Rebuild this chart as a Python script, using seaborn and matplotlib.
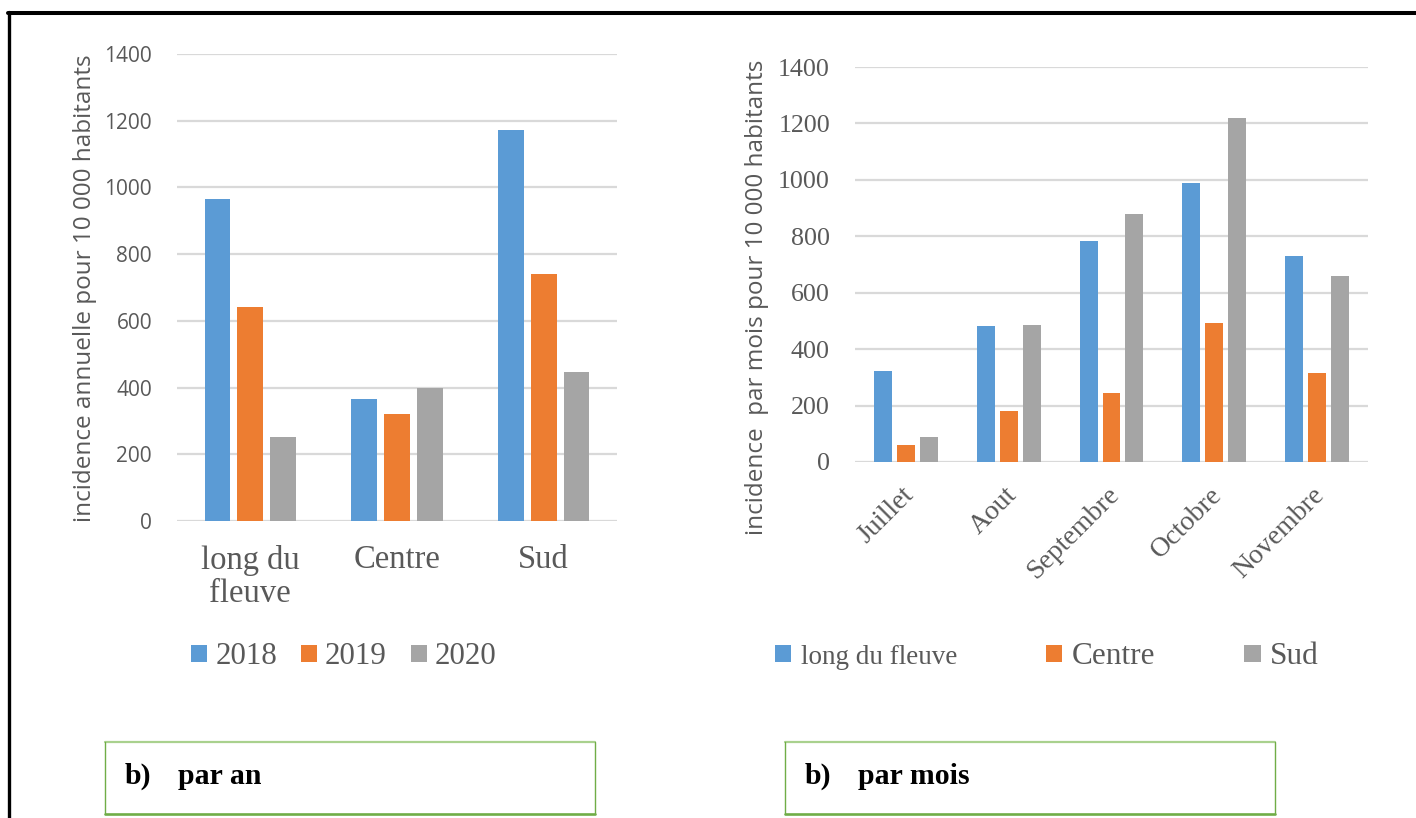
import numpy as np
import pandas as pd
import matplotlib
matplotlib.use("Agg")
import matplotlib.pyplot as plt
from matplotlib.patches import Patch
from matplotlib.lines import Line2D
import seaborn as sns

# ---- data -------------------------------------------------------------
zones = ["long du fleuve", "Centre", "Sud"]
annees = ["2018", "2019", "2020"]
inc_2018 = [966, 367, 1172]
inc_2019 = [643, 321, 741]
inc_2020 = [251, 400, 447]

mois = ["Juillet", "Aout", "Septembre", "Octobre", "Novembre"]
mois_fleuve = [324, 483, 782, 989, 730]
mois_centre = [61, 182, 245, 494, 317]
mois_sud = [90, 485, 879, 1220, 658]

couleurs = ["#5B9BD5", "#ED7D31", "#A5A5A5"]
y_ticks = [0, 200, 400, 600, 800, 1000, 1200, 1400]

df_an = pd.DataFrame({
    "zone": zones * 3,
    "annee": [a for a in annees for _ in zones],
    "incidence": inc_2018 + inc_2019 + inc_2020,
})
df_mois = pd.DataFrame({
    "mois": mois * 3,
    "zone": [z for z in zones for _ in mois],
    "incidence": mois_fleuve + mois_centre + mois_sud,
})

# ---- style ------------------------------------------------------------
sns.set_theme(style="white")
SANS = ["Open Sans", "DejaVu Sans"]
SERIF = ["Liberation Serif", "DejaVu Serif"]
plt.rcParams["font.family"] = SANS
TXT = "#595959"
GRID = "#D9D9D9"

W, H = 1416, 818
fig = plt.figure(figsize=(W / 100, H / 100), dpi=100)


def rect(x0, y0, x1, y1):
    return [x0 / W, 1 - y1 / H, (x1 - x0) / W, (y1 - y0) / H]


def style_axes(ax):
    ax.set_ylim(0, 1400)
    ax.set_yticks(y_ticks)
    ax.grid(axis="y", color=GRID, linewidth=1.6)
    ax.grid(axis="x", visible=False)
    ax.set_axisbelow(True)
    for s in ax.spines.values():
        s.set_visible(False)
    ax.tick_params(length=0, colors=TXT)
    ax.set_xlabel("")
    ax.set_ylabel("")


# ---- annual incidence by zone -----------------------------------------
ax1 = fig.add_axes(rect(177, 54, 617, 521))
sns.barplot(data=df_an, x="zone", y="incidence", hue="annee", order=zones,
            hue_order=annees, palette=couleurs, width=0.67, gap=0.215,
            linewidth=0, saturation=1, ax=ax1, legend=False)
style_axes(ax1)
ax1.tick_params(axis="y", pad=18)
for t in ax1.get_yticklabels():
    t.set_fontfamily(SANS)
    t.set_fontsize(15)
ax1.set_xticks(range(len(zones)))
ax1.set_xticklabels([z.replace("long du ", "long du\n") for z in zones],
                    fontfamily=SERIF, fontsize=23.5, color=TXT,
                    linespacing=1.13)
ax1.tick_params(axis="x", pad=17)
fig.text(85 / W, 1 - 288 / H, "incidence annuelle pour 10 000 habitants",
         rotation=90, ha="center", va="center", fontsize=17.5,
         family=SANS, color=TXT)

h1 = [Patch(facecolor=c, edgecolor="none") for c in couleurs]
leg1 = fig.legend(h1, annees, loc="center left",
                  bbox_to_anchor=(191 / W, 1 - 657 / H), ncol=3,
                  frameon=False, prop={"family": SERIF, "size": 22.3},
                  handlelength=0.52, handleheight=0.5, handletextpad=0.26,
                  columnspacing=0.77, borderpad=0, borderaxespad=0)
for t in leg1.get_texts():
    t.set_color(TXT)

# ---- monthly incidence by zone ----------------------------------------
ax2 = fig.add_axes(rect(855, 67, 1368, 462))
sns.barplot(data=df_mois, x="mois", y="incidence", hue="zone", order=mois,
            hue_order=zones, palette=couleurs, width=0.67, gap=0.215,
            linewidth=0, saturation=1, ax=ax2, legend=False)
style_axes(ax2)
ax2.tick_params(axis="y", pad=18)
for t in ax2.get_yticklabels():
    t.set_fontfamily(SERIF)
    t.set_fontsize(18.7)
ax2.set_xticks(range(len(mois)))
ax2.set_xticklabels(mois, fontfamily=SERIF, fontsize=20, color=TXT,
                    rotation=45, ha="right", va="center",
                    rotation_mode="anchor")
ax2.tick_params(axis="x", pad=21)
shift = matplotlib.transforms.ScaledTranslation(4 / 100, 0, fig.dpi_scale_trans)
for t in ax2.get_xticklabels():
    t.set_transform(t.get_transform() + shift)
fig.text(757 / W, 1 - 297 / H, "incidence  par mois pour 10 000 habitants",
         rotation=90, ha="center", va="center", fontsize=17.5,
         family=SANS, color=TXT)

h2 = [Patch(facecolor=c, edgecolor="none") for c in couleurs]
leg2 = fig.legend(h2, zones, loc="center left",
                  bbox_to_anchor=(775 / W, 1 - 657 / H), ncol=3,
                  frameon=False, prop={"family": SERIF, "size": 22.5},
                  handlelength=0.52, handleheight=0.5, handletextpad=0.3,
                  columnspacing=2.85, borderpad=0, borderaxespad=0)
for i, t in enumerate(leg2.get_texts()):
    t.set_color(TXT)
    if i == 0:
        t.set_fontsize(19.5)

# ---- page frame -------------------------------------------------------
fig.add_artist(Line2D([8 / W, 1], [1 - 13 / H, 1 - 13 / H], color="black",
                      linewidth=2.9, transform=fig.transFigure))
fig.add_artist(Line2D([9 / W, 9 / W], [0, 1 - 12 / H], color="black",
                      linewidth=2.4, transform=fig.transFigure))


def caption_box(x0, x1, label, text):
    y0, y1 = 742, 814
    tr = fig.transFigure
    fig.add_artist(Line2D([x0 / W, x1 / W], [1 - y0 / H] * 2, color="#A9D18E",
                          linewidth=1.6, transform=tr))
    fig.add_artist(Line2D([x0 / W, x1 / W], [1 - y1 / H] * 2, color="#70AD47",
                          linewidth=1.9, transform=tr))
    for xx in (x0, x1):
        fig.add_artist(Line2D([xx / W] * 2, [1 - y0 / H, 1 - y1 / H],
                              color="#70AD47", linewidth=1.0, transform=tr))
    fig.text((x0 + 20) / W, 1 - 776 / H, label, ha="left", va="center",
             fontsize=21.5, fontweight="bold", family=SERIF, color="black")
    fig.text((x0 + 73) / W, 1 - 776 / H, text, ha="left", va="center",
             fontsize=21.5, fontweight="bold", family=SERIF, color="black")


caption_box(105, 595, "b)", "par an")
caption_box(785, 1275, "b)", "par mois")

fig.savefig("out.png", dpi=100, facecolor="white")
